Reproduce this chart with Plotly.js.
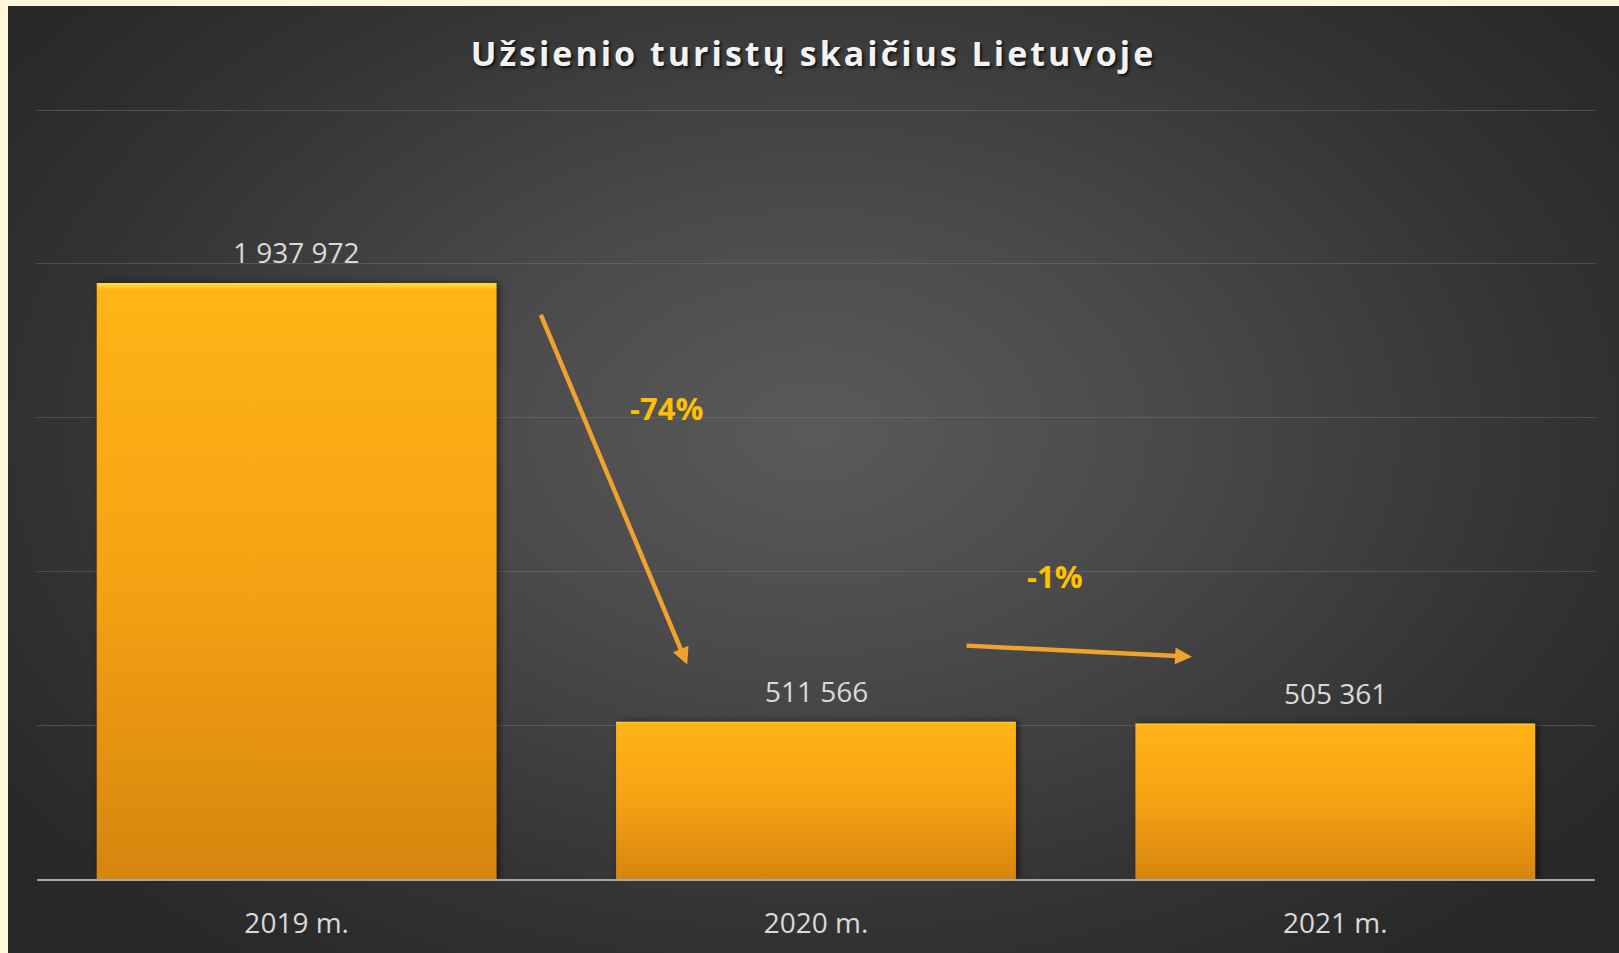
<!DOCTYPE html>
<html>
<head>
<meta charset="utf-8">
<script src="https://cdn.plot.ly/plotly-3.0.1.min.js"></script>
<style>
  html, body { margin: 0; padding: 0; background: #FFF7DA; width: 1619px; height: 953px; overflow: hidden; }
  #chart {
    position: absolute; left: 8px; top: 6px; width: 1611px; height: 947px;
    background: radial-gradient(ellipse 62% 70% at 50% 45%, #5a5a5a 0%, #4a4a4a 35%, #333333 75%, #282828 100%);
  }
  #chart .gtitle { letter-spacing: 3px; }
</style>
</head>
<body>
<div id="chart"></div>
<script>
// Data
const categories = ['2019 m.', '2020 m.', '2021 m.'];
const tourists = [1937972, 511566, 505361];
const changeLabels = ['-74%', '-1%'];
const titleText = 'Užsienio turistų skaičius Lietuvoje';

const labelColor = '#D9D9D9';
const font = "'Open Sans', 'Noto Sans', sans-serif";

const trace = {
  type: 'bar',
  x: categories,
  y: tourists,
  marker: { color: '#F0A015', line: { width: 0 } },
  hoverinfo: 'skip'
};

const fmt = v => String(v).replace(/\B(?=(\d{3})+(?!\d))/g, ' ');

// value labels above bars
const valueAnnots = categories.map((c, i) => ({
  x: c, y: tourists[i], xref: 'x', yref: 'y',
  text: fmt(tourists[i]),
  showarrow: false, yanchor: 'bottom', yshift: 10,
  font: { family: font, size: 28, color: labelColor }
}));

// change arrows & labels (positions in category-index / value space)
const arrowColor = '#F0A22E';
const arrowAnnots = [
  { x: 0.752, y: 697000, ax: 0.469, ay: 1839000 },
  { x: 1.724, y: 723000, ax: 1.287, ay: 759000 }
].map(a => ({
  x: a.x, y: a.y, ax: a.ax, ay: a.ay, xref: 'x', yref: 'y', axref: 'x', ayref: 'y',
  text: '', showarrow: true, arrowhead: 2, arrowsize: 0.75, arrowwidth: 4.5, arrowcolor: arrowColor
}));
const changeAnnots = [
  { x: 0.713, y: 1530000 },
  { x: 1.460, y: 984000 }
].map((p, i) => ({
  x: p.x, y: p.y, xref: 'x', yref: 'y', text: '<b>' + changeLabels[i] + '</b>',
  showarrow: false, font: { family: font, size: 31, color: '#FFC000' }
}));

const layout = {
  width: 1611, height: 947,
  paper_bgcolor: 'rgba(0,0,0,0)', plot_bgcolor: 'rgba(0,0,0,0)',
  margin: { l: 29, r: 24, t: 101, b: 73.5 },
  bargap: 0.23,
  showlegend: false,
  title: {
    text: '<b>' + titleText + '</b>',
    x: 0.5, xanchor: 'center', y: 1 - 48 / 947, yanchor: 'middle', yref: 'container',
    font: { family: font, size: 34, color: '#F2F2F2', shadow: '2px 2px 3px rgba(0,0,0,0.7)' }
  },
  xaxis: {
    type: 'category', range: [-0.5, 2.5],
    showgrid: false, zeroline: false,
    showline: true, linecolor: '#A6A6A6', linewidth: 2,
    ticks: '', ticklabelstandoff: 18,
    tickfont: { family: font, size: 28, color: labelColor }
  },
  yaxis: {
    range: [0, 2510000], dtick: 500000,
    showgrid: true, gridcolor: 'rgba(120,120,120,0.45)', gridwidth: 1,
    zeroline: false, showticklabels: false, ticks: '', showline: false
  },
  annotations: [...valueAnnots, ...arrowAnnots, ...changeAnnots]
};

Plotly.newPlot('chart', [trace], layout, { staticPlot: true, displayModeBar: false }).then(gd => {
  const svg = gd.querySelector('svg.main-svg');
  const ns = 'http://www.w3.org/2000/svg';
  let defs = svg.querySelector('defs');
  const lg = document.createElementNS(ns, 'linearGradient');
  lg.setAttribute('id', 'barGrad');
  lg.setAttribute('x1', '0'); lg.setAttribute('y1', '0');
  lg.setAttribute('x2', '0'); lg.setAttribute('y2', '1');
  [['0', '#FFE040'], ['0.012', '#FFB416'], ['0.5', '#F5A214'], ['1', '#D6860E']].forEach(([o, c]) => {
    const s = document.createElementNS(ns, 'stop');
    s.setAttribute('offset', o); s.setAttribute('stop-color', c);
    lg.appendChild(s);
  });
  defs.appendChild(lg);
  gd.querySelectorAll('.bars .point path').forEach(p => {
    p.style.fill = 'url(#barGrad)';
    p.style.filter = 'drop-shadow(3px 0px 3px rgba(0,0,0,0.5))';
  });
});
</script>
</body>
</html>
